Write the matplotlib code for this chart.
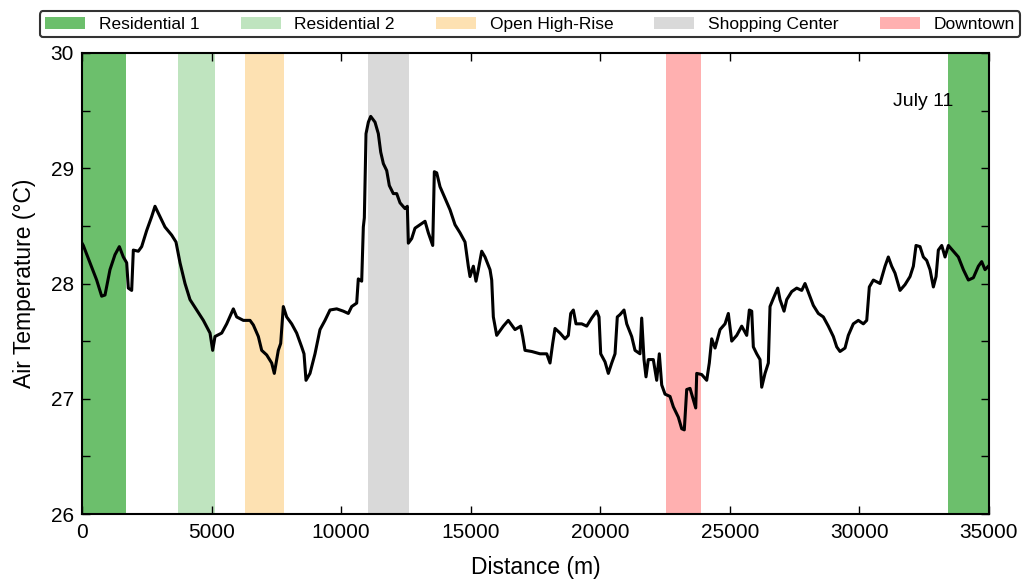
import matplotlib
matplotlib.use("Agg")
import matplotlib.pyplot as plt
from matplotlib.ticker import MultipleLocator

plt.rcParams["font.family"] = ["Liberation Sans", "DejaVu Sans"]

# distance along the traverse (m) and air temperature (deg C)
distance = [
    0, 50, 309, 566, 759, 888, 1080, 1273, 1441, 1595, 1724, 1788, 1917, 1981,
    2174, 2303, 2496, 2688, 2817, 3010, 3203, 3460, 3627, 3782, 3975, 4168,
    4426, 4683, 4940, 5043, 5132, 5391, 5584, 5840, 5968, 6226, 6483, 6612,
    6805, 6934, 7127, 7320, 7421, 7575, 7667, 7769, 7898, 8091, 8284, 8477,
    8567, 8644, 8798, 8991, 9184, 9377, 9570, 9828, 10084, 10277, 10407,
    10600, 10662, 10793, 10856, 10895, 10960, 11050, 11141, 11307, 11435,
    11527, 11629, 11758, 11859, 12013, 12144, 12272, 12465, 12554, 12593,
    12723, 12850, 13044, 13237, 13364, 13534, 13596, 13688, 13815, 14008,
    14201, 14394, 14587, 14780, 14907, 14973, 15102, 15204, 15294, 15424,
    15552, 15745, 15810, 15873, 16003, 16258, 16450, 16709, 16929, 17007,
    17095, 17354, 17674, 17933, 18060, 18164, 18253, 18446, 18639, 18767,
    18859, 18960, 19063, 19284, 19476, 19669, 19862, 19951, 20016, 20183,
    20310, 20441, 20569, 20657, 20761, 20916, 21020, 21212, 21340, 21533,
    21598, 21687, 21764, 21853, 22046, 22177, 22278, 22370, 22498, 22691,
    22819, 23012, 23142, 23242, 23335, 23463, 23590, 23683, 23721, 23914,
    24107, 24207, 24300, 24428, 24621, 24814, 24941, 25072, 25265, 25458,
    25651, 25751, 25844, 25906, 26036, 26164, 26229, 26357, 26485, 26550,
    26677, 26848, 26936, 27091, 27194, 27387, 27580, 27773, 27900, 28067,
    28221, 28414, 28607, 28800, 28993, 29124, 29251, 29444, 29571, 29764,
    29957, 30151, 30282, 30382, 30537, 30795, 30988, 31115, 31245, 31373,
    31566, 31759, 31952, 32081, 32184, 32338, 32467, 32596, 32724, 32853,
    32957, 33045, 33176, 33304, 33433, 33625, 33818, 34011, 34204, 34397,
    34590, 34718, 34846, 34975,
]
air_temp = [
    28.35, 28.33, 28.18, 28.03, 27.89, 27.90, 28.12, 28.25, 28.32, 28.23, 28.18,
    27.96, 27.94, 28.29, 28.28, 28.32, 28.46, 28.58, 28.67, 28.58, 28.49, 28.42,
    28.36, 28.18, 28.00, 27.86, 27.77, 27.68, 27.57, 27.42, 27.54, 27.57, 27.65,
    27.78, 27.71, 27.68, 27.68, 27.64, 27.54, 27.42, 27.38, 27.31, 27.22, 27.42,
    27.48, 27.80, 27.71, 27.65, 27.57, 27.45, 27.39, 27.16, 27.22, 27.39, 27.60,
    27.68, 27.77, 27.78, 27.76, 27.74, 27.80, 27.83, 28.04, 28.02, 28.49, 28.57,
    29.30, 29.40, 29.45, 29.40, 29.30, 29.14, 29.04, 28.98, 28.85, 28.78, 28.78,
    28.70, 28.65, 28.67, 28.35, 28.39, 28.48, 28.51, 28.54, 28.44, 28.33, 28.97,
    28.96, 28.84, 28.74, 28.64, 28.51, 28.44, 28.36, 28.15, 28.06, 28.15, 28.02,
    28.12, 28.28, 28.23, 28.12, 28.03, 27.71, 27.55, 27.63, 27.68, 27.60, 27.63,
    27.54, 27.42, 27.41, 27.39, 27.39, 27.31, 27.48, 27.61, 27.57, 27.52, 27.55,
    27.74, 27.77, 27.65, 27.65, 27.63, 27.70, 27.76, 27.71, 27.39, 27.32, 27.22,
    27.31, 27.39, 27.71, 27.73, 27.77, 27.65, 27.54, 27.42, 27.39, 27.70, 27.34,
    27.19, 27.34, 27.34, 27.16, 27.39, 27.12, 27.04, 27.02, 26.93, 26.84, 26.74,
    26.73, 27.08, 27.09, 26.99, 26.92, 27.22, 27.21, 27.16, 27.31, 27.52, 27.44,
    27.60, 27.65, 27.74, 27.50, 27.55, 27.63, 27.55, 27.77, 27.76, 27.45, 27.39,
    27.34, 27.10, 27.22, 27.31, 27.80, 27.87, 27.96, 27.86, 27.76, 27.86, 27.93,
    27.96, 27.94, 28.00, 27.90, 27.81, 27.74, 27.71, 27.63, 27.54, 27.45, 27.41,
    27.44, 27.55, 27.65, 27.68, 27.65, 27.68, 27.97, 28.03, 28.00, 28.15, 28.23,
    28.15, 28.09, 27.94, 27.99, 28.06, 28.15, 28.33, 28.32, 28.23, 28.20, 28.12,
    27.97, 28.06, 28.29, 28.33, 28.23, 28.33, 28.28, 28.23, 28.12, 28.03, 28.05,
    28.15, 28.19, 28.12, 28.15,
]

# land-use zones crossed by the route: (start, end) in m
zone_names = ["Residential 1", "Residential 2", "Open High-Rise",
              "Shopping Center", "Downtown", "Residential 1"]
zone_start = [0, 3700, 6300, 11050, 22550, 33400]
zone_end = [1700, 5150, 7800, 12600, 23900, 35000]
zone_colors = ["#6cbf6c", "#bfe4bf", "#fde1b2", "#d9d9d9", "#ffb0b0", "#6cbf6c"]

fig = plt.figure(figsize=(10.27, 5.81), dpi=100)
ax = fig.add_axes([82 / 1027, 67 / 581, 907 / 1027, 461 / 581])

seen = set()
for name, x0, x1, c in zip(zone_names, zone_start, zone_end, zone_colors):
    label = name if name not in seen else None
    seen.add(name)
    ax.axvspan(x0, x1, color=c, lw=0, label=label, zorder=1)

ax.plot(distance, air_temp, color="black", lw=2.2, zorder=3)

ax.set_xlim(0, 35000)
ax.set_ylim(26, 30)
ax.xaxis.set_major_locator(MultipleLocator(5000))
ax.yaxis.set_major_locator(MultipleLocator(1))
ax.yaxis.set_minor_locator(MultipleLocator(0.5))
ax.tick_params(which="both", direction="in", top=True, right=True,
               length=6, width=1, labelsize=15)
ax.tick_params(axis="x", pad=6.5)
ax.tick_params(axis="y", pad=6)
for s in ax.spines.values():
    s.set_linewidth(1.5)

ax.set_xlabel("Distance (m)", fontsize=16.5, labelpad=10)
ax.set_ylabel("Air Temperature (°C)", fontsize=16.5, labelpad=10)
ax.text(31300, 29.58, "July 11", fontsize=14, va="center", ha="left")

handles, labels = ax.get_legend_handles_labels()
leg = fig.legend(handles, labels, loc="lower left", ncol=5, mode="expand",
                 bbox_to_anchor=(40 / 1027, 1 - 37 / 581, 980 / 1027, 30 / 581),
                 fontsize=12.5, frameon=True, fancybox=True, handlelength=2.3,
                 borderaxespad=0, borderpad=0.3)
leg.get_frame().set_edgecolor("black")
leg.get_frame().set_linewidth(1.5)

fig.savefig("out.png", dpi=100)
